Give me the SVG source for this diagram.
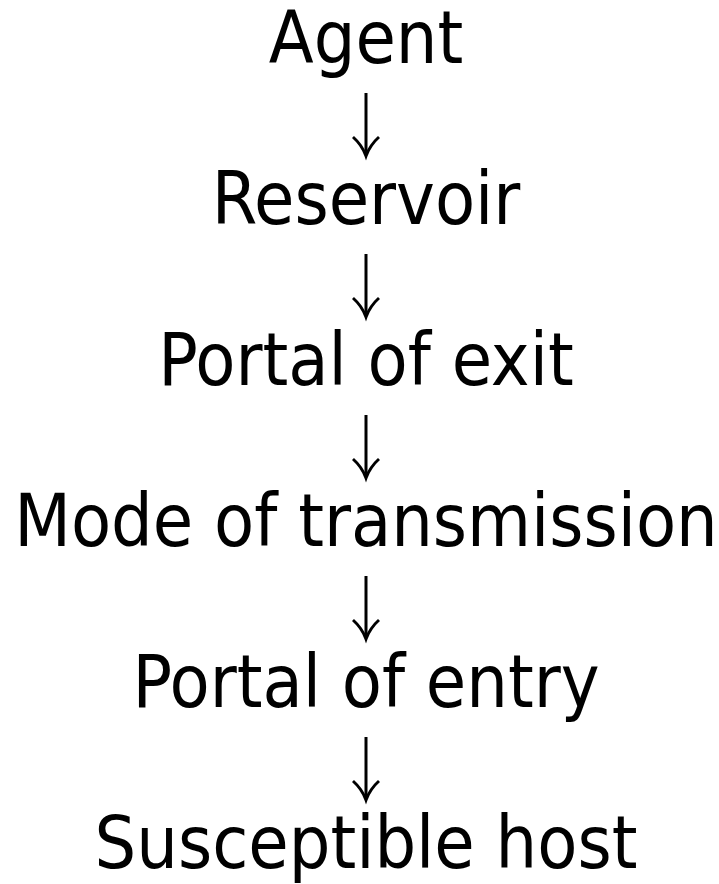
<svg xmlns="http://www.w3.org/2000/svg" width="719" height="884" viewBox="0 0 719 884">
<style>
.t{font-family:"DejaVu Sans Condensed","DejaVu Sans",sans-serif;font-stretch:condensed;font-size:73px;fill:#000;text-anchor:middle}
.a{stroke:#000;stroke-width:3;fill:none}
</style>
<rect width="719" height="884" fill="#fff"/>
<g id="agent"><text class="t" x="366" y="63">Agent</text></g>
<g id="reservoir"><text class="t" x="366" y="224">Reservoir</text></g>
<g id="exit"><text class="t" x="366" y="385">Portal of exit</text></g>
<g id="mode"><text class="t" x="366" y="546">Mode of transmission</text></g>
<g id="entry"><text class="t" x="366" y="707">Portal of entry</text></g>
<g id="host"><text class="t" x="366" y="868">Susceptible host</text></g>
<defs>
<g id="arr"><path class="a" d="M366,0 V62"/><path class="a" d="M353,44 Q362,52 366,63 Q370,52 379,44"/></g>
</defs>
<g id="connectors">
<use href="#arr" y="93"/>
<use href="#arr" y="254"/>
<use href="#arr" y="415"/>
<use href="#arr" y="576"/>
<use href="#arr" y="737"/>
</g>
</svg>
